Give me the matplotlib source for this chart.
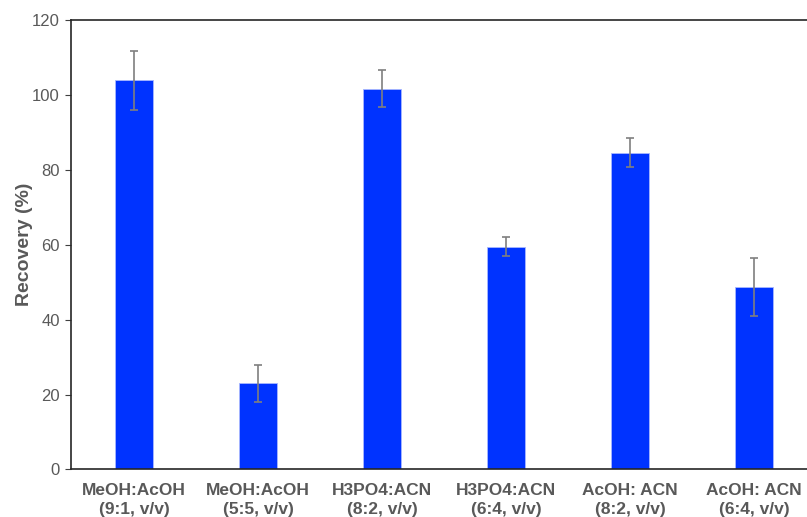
import matplotlib.pyplot as plt
import numpy as np

plt.rcParams['font.family'] = ['Liberation Sans', 'DejaVu Sans']

labels = ['MeOH:AcOH\n(9:1, v/v)', 'MeOH:AcOH\n(5:5, v/v)', 'H3PO4:ACN\n(8:2, v/v)',
          'H3PO4:ACN\n(6:4, v/v)', 'AcOH: ACN\n(8:2, v/v)', 'AcOH: ACN\n(6:4, v/v)']
recovery = [103.9, 23.0, 101.7, 59.5, 84.6, 48.7]
errors = [7.9, 4.9, 4.9, 2.5, 3.8, 7.7]

fig = plt.figure(figsize=(8.07, 5.17), dpi=100)
ax = fig.add_axes([0.088, 0.092, 0.912, 0.869])

x = np.arange(len(labels))
ax.bar(x, recovery, width=0.31, color='#0033ff', edgecolor='#a8b8ff', linewidth=0.6,
       yerr=errors, error_kw=dict(ecolor='#7f7f7f', elinewidth=1.2, capsize=3, capthick=1.2))

ax.set_xlim(-0.508, 5.427)
ax.set_ylim(0, 120)
ax.set_yticks(range(0, 121, 20))
ax.set_xticks(x)
ax.set_xticklabels(labels, fontsize=12.5, fontweight='bold', color='#595959', linespacing=1.3)
ax.tick_params(axis='x', length=0, pad=10)
ax.tick_params(axis='y', labelsize=12, labelcolor='#595959', length=4, color='#404040', pad=4)
ax.set_ylabel('Recovery (%)', fontsize=14, fontweight='bold', color='#595959')
ax.yaxis.set_label_coords(-0.052, 0.5)

ax.spines['right'].set_visible(False)
for s in ['left', 'bottom', 'top']:
    ax.spines[s].set_color('#262626')
    ax.spines[s].set_linewidth(1.2)

fig.savefig('out.png', dpi=100)
